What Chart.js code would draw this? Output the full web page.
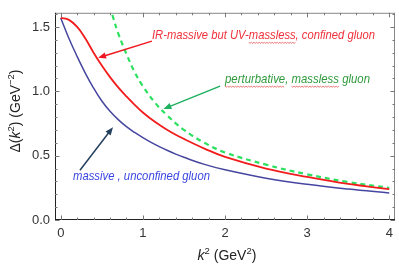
<!DOCTYPE html>
<html><head><meta charset="utf-8">
<script src="https://cdn.jsdelivr.net/npm/chart.js@4/dist/chart.umd.min.js"></script>
<style>html,body{margin:0;padding:0;background:#fff}#wrap{width:399px;height:268px}</style>
</head><body><div id="wrap"><canvas id="c" width="399" height="268"></canvas></div>
<script>
// ---- data ----
const kConfined = [0,0.1,0.2,0.3,0.4,0.5,0.6,0.7,0.8,0.9,1.0,1.1,1.2,1.35,1.5,1.75,2.0,2.5,3.0,3.5,4.0];
const deltaConfined = [1.57,1.555,1.50,1.41,1.30,1.20,1.11,1.03,0.96,0.895,0.835,0.785,0.74,0.68,0.63,0.555,0.49,0.40,0.335,0.28,0.24];
const kPerturbative = [0.6,0.64,0.7,0.8,0.9,1.0,1.15,1.3,1.5,1.75,2.0,2.5,3.0,3.5,4.0];
const deltaPerturbative = [1.66,1.57,1.45,1.29,1.15,1.04,0.91,0.81,0.70,0.60,0.525,0.43,0.355,0.295,0.25];
const kUnconfined = [0,0.1,0.2,0.3,0.4,0.5,0.6,0.7,0.8,0.9,1.0,1.1,1.2,1.3,1.4,1.5,1.75,2.0,2.5,3.0,3.5,4.0];
const deltaUnconfined = [1.57,1.41,1.27,1.14,1.025,0.925,0.845,0.78,0.725,0.68,0.64,0.603,0.57,0.54,0.512,0.487,0.432,0.39,0.325,0.277,0.24,0.21];
const xTickLabels = ["0","1","2","3","4"];
const yTickLabels = ["0.0","0.5","1.0","1.5"];
const labelConfined = "IR-massive but UV-massless, confined gluon";
const labelPerturbative = "perturbative, massless gluon";
const labelUnconfined = "massive , unconfined gluon";

const pts = (xs, ys) => xs.map((x, i) => ({x, y: ys[i]}));

// annotations: text anchor and arrow (data coordinates); squiggle = spell-check underlined words
const notes = [
  {text: labelConfined, color: '#f0303a', width: 223, at: [1.11, 1.435], squiggle: ['massless'],
   arrow: {from: [1.11, 1.39], to: [0.454, 1.26], color: '#f01820'}},
  {text: labelPerturbative, color: '#2f9a3c', width: 145, at: [2.0, 1.094], squiggle: ['perturbative', 'massless'],
   arrow: {from: [1.94, 1.04], to: [1.25, 0.862], color: '#1fb060'}},
  {text: labelUnconfined, color: '#3a46e0', width: 137, at: [0.149, 0.342], squiggle: [],
   arrow: {from: [0.234, 0.387], to: [0.636, 0.721], color: '#24405e'}}
];

const framePlugin = {
  id: 'frame',
  afterDatasetsDraw(chart) {
    const {ctx, chartArea: a, scales: {x, y}} = chart;
    ctx.save();
    // frame
    ctx.lineWidth = 1;
    ctx.strokeStyle = '#888';
    ctx.beginPath();
    ctx.moveTo(a.left, a.top + 0.5); ctx.lineTo(a.right, a.top + 0.5);
    ctx.moveTo(a.right - 0.5, a.top); ctx.lineTo(a.right - 0.5, a.bottom);
    ctx.stroke();
    ctx.strokeStyle = '#222';
    ctx.beginPath();
    ctx.moveTo(a.left + 0.5, a.top); ctx.lineTo(a.left + 0.5, a.bottom);
    ctx.moveTo(a.left, a.bottom - 0.5); ctx.lineTo(a.right, a.bottom - 0.5);
    ctx.stroke();
    // inward ticks
    ctx.strokeStyle = '#777';
    ctx.beginPath();
    for (let i = 0; i <= 20; i++) {
      const v = i * 0.2, px = Math.round(x.getPixelForValue(v)) + 0.5;
      const len = (i % 5 === 0) ? 4.5 : 2.5;
      ctx.moveTo(px, a.bottom); ctx.lineTo(px, a.bottom - len);
      ctx.moveTo(px, a.top); ctx.lineTo(px, a.top + len);
    }
    for (let i = 0; i <= 16; i++) {
      const v = i * 0.1; if (v > y.max) break;
      const py = Math.round(y.getPixelForValue(v)) + 0.5;
      const len = (i % 5 === 0) ? 4.5 : 2.5;
      ctx.moveTo(a.left, py); ctx.lineTo(a.left + len, py);
      ctx.moveTo(a.right, py); ctx.lineTo(a.right - len, py);
    }
    ctx.stroke();

    // annotations
    notes.forEach(n => {
      const ar = n.arrow;
      const x1 = x.getPixelForValue(ar.from[0]), y1 = y.getPixelForValue(ar.from[1]);
      const x2 = x.getPixelForValue(ar.to[0]), y2 = y.getPixelForValue(ar.to[1]);
      const ang = Math.atan2(y2 - y1, x2 - x1), hl = 8, hw = 3.2;
      ctx.strokeStyle = ar.color; ctx.fillStyle = ar.color; ctx.lineWidth = 1.5;
      ctx.beginPath(); ctx.moveTo(x1, y1);
      ctx.lineTo(x2 - Math.cos(ang) * hl * 0.8, y2 - Math.sin(ang) * hl * 0.8); ctx.stroke();
      ctx.beginPath(); ctx.moveTo(x2, y2);
      ctx.lineTo(x2 - Math.cos(ang) * hl - Math.sin(ang) * hw, y2 - Math.sin(ang) * hl + Math.cos(ang) * hw);
      ctx.lineTo(x2 - Math.cos(ang) * hl + Math.sin(ang) * hw, y2 - Math.sin(ang) * hl - Math.cos(ang) * hw);
      ctx.closePath(); ctx.fill();
      // text: 13px italic, horizontally condensed to the measured width
      ctx.font = 'italic 13px "Liberation Sans", Arial, sans-serif';
      const w = ctx.measureText(n.text).width;
      const sx = n.width / w;
      const tx = x.getPixelForValue(n.at[0]), ty = y.getPixelForValue(n.at[1]);
      ctx.save();
      ctx.translate(tx, ty); ctx.scale(sx, 1);
      ctx.fillStyle = n.color; ctx.textBaseline = 'middle'; ctx.textAlign = 'left';
      ctx.fillText(n.text, 0, 0);
      // spell-check squiggles
      ctx.strokeStyle = '#e04848'; ctx.lineWidth = 0.8;
      n.squiggle.forEach(word => {
        const idx = n.text.indexOf(word);
        const x0 = ctx.measureText(n.text.slice(0, idx)).width;
        const ww = ctx.measureText(word).width;
        ctx.beginPath();
        for (let s = 0; s <= ww; s += 1.5) {
          const yy = 7 + ((Math.round(s / 1.5) % 2) ? 1 : 0);
          if (s === 0) ctx.moveTo(x0 + s, yy); else ctx.lineTo(x0 + s, yy);
        }
        ctx.stroke();
      });
      ctx.restore();
    });

    // axis titles with italic k and superscripts
    const base = '14px "Liberation Sans", Arial, sans-serif';
    const ital = 'italic 14px "Liberation Sans", Arial, sans-serif';
    const sup = '9.5px "Liberation Sans", Arial, sans-serif';
    function rich(parts) {
      let w = 0;
      parts.forEach(p => { ctx.font = p[1]; w += ctx.measureText(p[0]).width; });
      return w;
    }
    function drawRich(parts, cx, cy) {
      const w = rich(parts); let xx = cx - w / 2;
      parts.forEach(p => {
        ctx.font = p[1];
        ctx.fillText(p[0], xx, cy + (p[2] || 0));
        xx += ctx.measureText(p[0]).width;
      });
    }
    ctx.fillStyle = '#222'; ctx.textBaseline = 'alphabetic'; ctx.textAlign = 'left';
    drawRich([["k", ital], ["2", sup, -6], [" (GeV", base], ["2", sup, -6], [")", base]],
      (a.left + a.right) / 2 + 2, 260);
    ctx.save();
    ctx.translate(20, 111);
    ctx.rotate(-Math.PI / 2);
    drawRich([["\u0394(", base], ["k", ital], ["2", sup, -6], [") (GeV", base], ["\u22122", sup, -6], [")", base]], 0, 0);
    ctx.restore();
    ctx.restore();
  }
};

new Chart(document.getElementById('c'), {
  type: 'line',
  data: {
    datasets: [
      {label: labelConfined, data: pts(kConfined, deltaConfined), borderColor: '#f21c1c', borderWidth: 1.8},
      {label: labelPerturbative, data: pts(kPerturbative, deltaPerturbative), borderColor: '#2ee060', borderWidth: 2.2, borderDash: [5, 4]},
      {label: labelUnconfined, data: pts(kUnconfined, deltaUnconfined), borderColor: '#4646a0', borderWidth: 1.5}
    ]
  },
  options: {
    responsive: false, animation: false, devicePixelRatio: 1,
    layout: {padding: {top: 8, right: 4, left: 0, bottom: 0}},
    elements: {point: {radius: 0}, line: {tension: 0.4, fill: false}},
    plugins: {legend: {display: false}, tooltip: {enabled: false}},
    scales: {
      x: {
        type: 'linear', min: -0.07, max: 4.07,
        grid: {display: false, drawTicks: false}, border: {display: false},
        afterFit(s) { s.height = 48; },
        ticks: {stepSize: 1, includeBounds: false, padding: 6, color: '#333',
          font: {family: '"Liberation Sans", Arial, sans-serif', size: 13},
          callback: v => (Number.isInteger(v) && v >= 0 && v <= 4) ? xTickLabels[v] : ''}
      },
      y: {
        type: 'linear', min: 0, max: 1.61,
        grid: {display: false, drawTicks: false}, border: {display: false},
        afterFit(s) { s.width = 55; },
        ticks: {stepSize: 0.5, includeBounds: false, padding: 5, color: '#333',
          font: {family: '"Liberation Sans", Arial, sans-serif', size: 13},
          callback: v => { const i = Math.round(v / 0.5); return Math.abs(v - i * 0.5) < 1e-6 ? yTickLabels[i] : ''; }}
      }
    }
  },
  plugins: [framePlugin]
});
</script></body></html>
